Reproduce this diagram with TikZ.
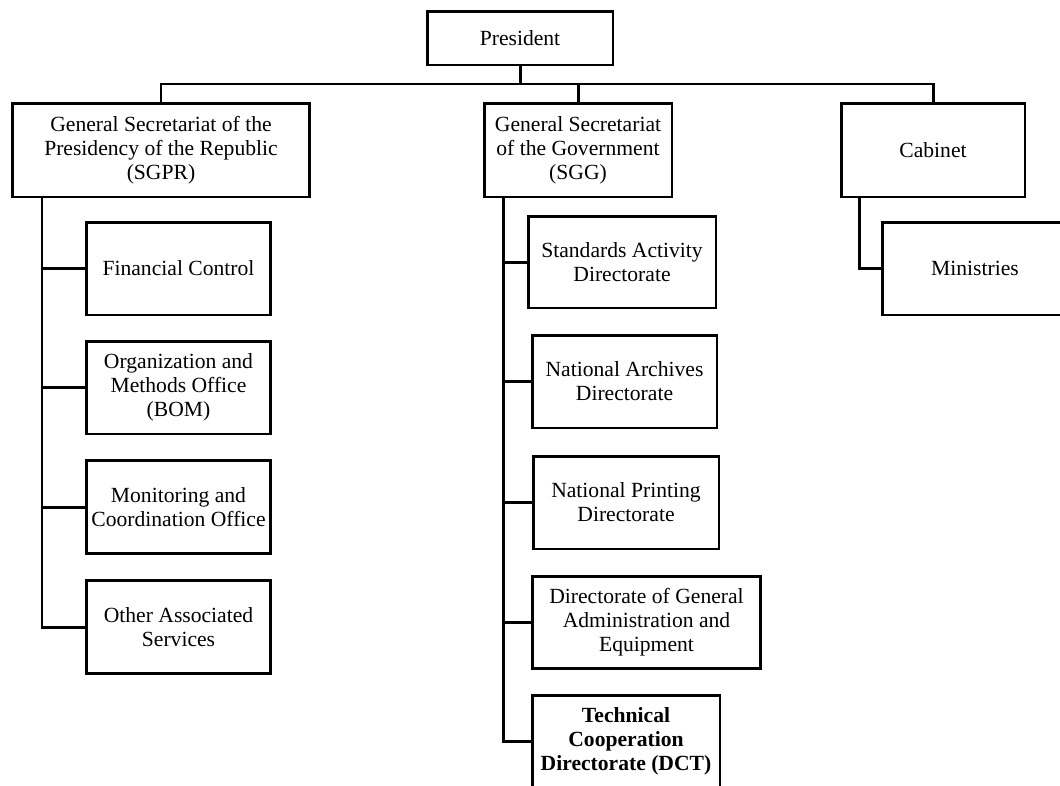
\documentclass[tikz,border=0pt]{standalone}
\usepackage{fontspec}
\setmainfont{Liberation Serif}
\begin{document}
\begin{tikzpicture}[x=0.02cm, y=-0.02cm,
    unit/.style={draw, line width=1.7pt, align=center, inner sep=0pt,
                 font=\fontsize{12.3}{13.6}\selectfont},
    link/.style={line width=1.7pt, line join=miter}]

    % Page frame (pixels of the original chart)
    \useasboundingbox (0,0) rectangle (1060,785);
    \clip (0,0) rectangle (1060,785);

    % Top level
    \node[unit, minimum width=3.72cm, minimum height=1.08cm] (pres) at (520,38) {President};

    % Second level
    \node[unit, minimum width=5.96cm, minimum height=1.88cm] (sgpr) at (161,150)
        {General Secretariat of the\\Presidency of the Republic\\(SGPR)};
    \node[unit, minimum width=3.76cm, minimum height=1.88cm] (sgg) at (578,150)
        {General Secretariat\\of the Government\\(SGG)};
    \node[unit, minimum width=3.68cm, minimum height=1.88cm] (cab) at (933,150) {Cabinet};

    % Units under the SGPR
    \node[unit, minimum width=3.7cm, minimum height=1.86cm] (fin) at (178.5,268.5) {Financial Control};
    \node[unit, minimum width=3.7cm, minimum height=1.86cm] (bom) at (178.5,387.5)
        {Organization and\\Methods Office\\(BOM)};
    \node[unit, minimum width=3.7cm, minimum height=1.86cm] (mon) at (178.5,507)
        {Monitoring and\\Coordination Office};
    \node[unit, minimum width=3.7cm, minimum height=1.86cm] (other) at (178.5,627)
        {Other Associated\\Services};

    % Units under the SGG
    \node[unit, minimum width=3.76cm, minimum height=1.84cm] (std) at (622,262)
        {Standards Activity\\Directorate};
    \node[unit, minimum width=3.7cm, minimum height=1.86cm] (arch) at (624.5,381.5)
        {National Archives\\Directorate};
    \node[unit, minimum width=3.72cm, minimum height=1.86cm] (print) at (626,502.5)
        {National Printing\\Directorate};
    \node[unit, minimum width=4.58cm, minimum height=1.84cm] (dage) at (646.5,622)
        {Directorate of General\\Administration and\\Equipment};
    \node[unit, minimum width=3.76cm, minimum height=1.84cm, font=\fontsize{12.3}{13.6}\selectfont\bfseries] (dct) at (626,741)
        {Technical\\Cooperation\\Directorate (DCT)};

    % Unit under the Cabinet
    \node[unit, minimum width=3.72cm, minimum height=1.86cm] (min) at (975,268.5) {Ministries};

    % Bus line below the President
    \coordinate (bus) at (0,84);
    \draw[link] (pres.south) -- (pres.south |- bus);
    \draw[link] (sgpr.north) |- (cab.north |- bus) -- (cab.north);
    \draw[link] (sgg.north) -- (sgg.north |- bus);

    % Trunks down the left side of each column
    \coordinate (sgprtrunk) at (42,197);
    \coordinate (sggtrunk) at (503,197);
    \coordinate (cabtrunk) at (859,197);

    \draw[link] (sgprtrunk) |- (other.west);
    \foreach \n in {fin,bom,mon}
        \draw[link] (\n.west) -- (\n.west -| sgprtrunk);

    \draw[link] (sggtrunk) |- (dct.west);
    \foreach \n in {std,arch,print,dage}
        \draw[link] (\n.west) -- (\n.west -| sggtrunk);

    \draw[link] (cabtrunk) |- (min.west);

\end{tikzpicture}
\end{document}
